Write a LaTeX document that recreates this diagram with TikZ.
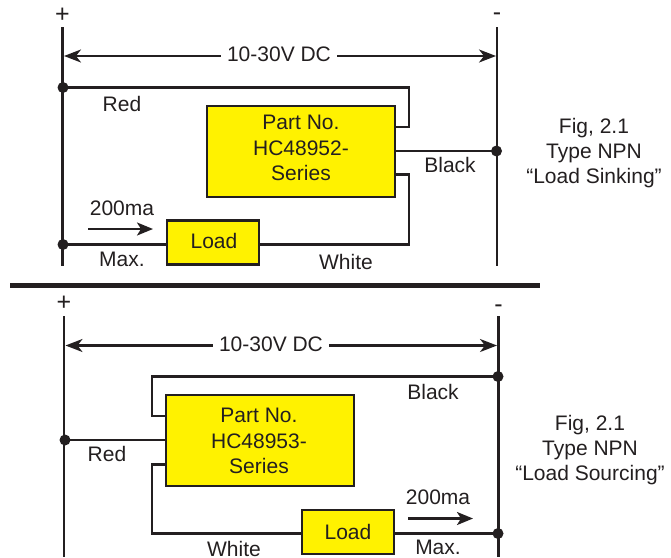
\documentclass[tikz,border=0pt]{standalone}
\usepackage{fontspec}
\setmainfont{Liberation Sans}
\usetikzlibrary{arrows.meta}
\definecolor{ink}{HTML}{231F20}
\definecolor{boxyellow}{HTML}{FFF200}
\tikzset{
  wire/.style={draw=ink,line width=2.2pt,line join=miter},
  rail/.style={draw=ink,line width=2.5pt},
  divider/.style={draw=ink,line width=5pt},
  dimarrow/.style={draw=ink,line width=2.2pt,-{Stealth[length=17pt,width=13pt,inset=5pt]}},
  currarrow/.style={draw=ink,line width=2.2pt,-{Stealth[length=16pt,width=13pt,inset=4pt]}},
  junction/.style={circle,fill=ink,draw=none,inner sep=0pt,minimum size=11pt},
  partbox/.style={draw=ink,fill=boxyellow,line width=2.8pt,minimum width=188pt,minimum height=91pt,inner sep=0pt},
  loadbox/.style={draw=ink,fill=boxyellow,line width=2.8pt,minimum width=92pt,minimum height=44pt,inner sep=0pt},
  lbl/.style={text=ink,font=\fontsize{21}{25.3}\selectfont,inner sep=0pt,align=center},
  tightlbl/.style={text=ink,font=\fontsize{21}{25.3}\selectfont,inner sep=0pt},
  signlbl/.style={lbl,font=\fontsize{25}{25}\selectfont},
}
\begin{document}
\begin{tikzpicture}[x=1pt,y=-1pt]
\useasboundingbox (0,0) rectangle (671,557);
% ---- top diagram
\coordinate (tlt) at (62.5,27);\coordinate (tlb) at (62.5,266);
\coordinate (trt) at (497,27);\coordinate (trb) at (497,266);
\draw[rail] (tlt) -- (tlb);
\draw[rail] (trt) -- (trb);
\node[signlbl] (tplus) at (62.5,15) {+};
\node[signlbl] (tminus) at (497,17) {-};
\node[lbl,fill=white,inner xsep=6pt,inner ysep=1pt] (tdim) at (279,54) {10-30V DC};
\coordinate (tdl) at (64,56);\coordinate (tdr) at (496,56);
\draw[dimarrow] (tdim.west |- tdl) -- (tdl);
\draw[dimarrow] (tdim.east |- tdr) -- (tdr);
\node[partbox] (tpart) at (301,151.5) {};
\node[lbl] (tparttext) at (301,148) {Part No.\\HC48952-\\Series};
\node[loadbox] (tload) at (213,242.5) {};
\node[lbl] (tloadtext) at (214,241) {Load};
\node[junction] (tj1) at (63,87.5) {};
\node[junction] (tj2) at (63,244.5) {};
\node[junction] (tj3) at (496.5,151) {};
\coordinate (tr1) at (409,87.5);\coordinate (tr2) at (409,127);
\coordinate (tw1) at (409,174.5);\coordinate (tw2) at (409,244.5);
\draw[wire] (tj1.center) -- (tr1) -- (tr2) -- (tpart.east |- tr2);
\draw[wire] (tpart.east |- tj3) -- (tj3.center);
\draw[wire] (tpart.east |- tw1) -- (tw1) -- (tw2) -- (tload.east |- tw2);
\draw[wire] (tj2.center) -- (tload.west |- tj2);
\coordinate (tc1) at (88,229);\coordinate (tc2) at (153,229);
\draw[currarrow] (tc1) -- (tc2);
\node[lbl] (tred) at (122,104) {Red};
\node[lbl] (t200) at (122,208) {200ma};
\node[lbl] (tmax) at (122,259) {Max.};
\node[lbl] (twhite) at (346,262) {White};
\node[lbl] (tblack) at (450,165) {Black};
\node[lbl] (tfig) at (594,153) {Fig, 2.1\\Type NPN\\“Load Sinking”};
% ---- divider
\coordinate (d1) at (10,285);\coordinate (d2) at (540,285);
\draw[divider] (d1) -- (d2);
% ---- bottom diagram
\coordinate (blt) at (64,316);\coordinate (blb) at (64,557);
\coordinate (brt) at (498.5,316);\coordinate (brb) at (498.5,557);
\draw[rail] (blt) -- (blb);
\draw[rail] (brt) -- (brb);
\node[signlbl] (bplus) at (64,303) {+};
\node[signlbl] (bminus) at (498.5,309) {-};
\node[lbl,fill=white,inner xsep=6pt,inner ysep=1pt] (bdim) at (271,344) {10-30V DC};
\coordinate (bdl) at (65.5,345.5);\coordinate (bdr) at (497,345.5);
\draw[dimarrow] (bdim.west |- bdl) -- (bdl);
\draw[dimarrow] (bdim.east |- bdr) -- (bdr);
\node[partbox] (bpart) at (260,440.5) {};
\node[lbl] (bparttext) at (259,441) {Part No.\\HC48953-\\Series};
\node[loadbox] (bload) at (348,532) {};
\node[lbl] (bloadtext) at (348,532) {Load};
\node[junction] (bj1) at (65,440) {};
\node[junction] (bj2) at (498,376.5) {};
\node[junction] (bj3) at (498,533.5) {};
\coordinate (bk1) at (152,376.5);\coordinate (bk2) at (152,416);
\coordinate (bw1) at (152,464.5);\coordinate (bw2) at (152,533.5);
\draw[wire] (bj2.center) -- (bk1) -- (bk2) -- (bpart.west |- bk2);
\draw[wire] (bj1.center) -- (bpart.west |- bj1);
\draw[wire] (bpart.west |- bw1) -- (bw1) -- (bw2) -- (bload.west |- bw2);
\draw[wire] (bload.east |- bj3) -- (bj3.center);
\coordinate (bc1) at (408,518.5);\coordinate (bc2) at (473,518.5);
\draw[currarrow] (bc1) -- (bc2);
\node[lbl] (bred) at (107,454) {Red};
\node[lbl] (b200) at (438,497) {200ma};
\node[tightlbl] (bmax) at (438,547.5) {Max.};
\node[tightlbl] (bwhite) at (234,548.5) {White};
\node[lbl] (bblack) at (433,392) {Black};
\node[lbl] (bfig) at (590,450) {Fig, 2.1\\Type NPN\\“Load Sourcing”};
\end{tikzpicture}
\end{document}
